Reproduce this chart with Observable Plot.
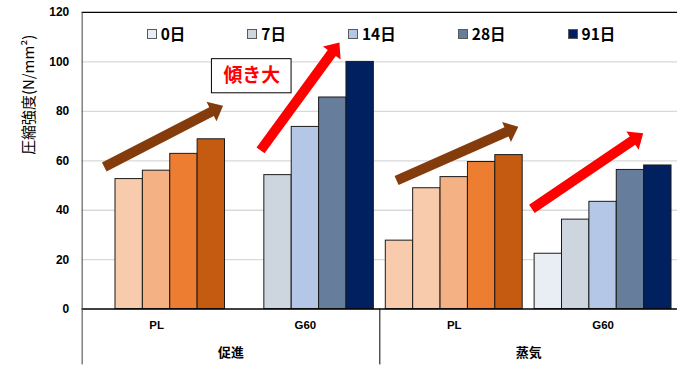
<!DOCTYPE html>
<html><head><meta charset="utf-8">
<script src="https://cdn.jsdelivr.net/npm/d3@7"></script>
<script src="https://cdn.jsdelivr.net/npm/@observablehq/plot@0.6"></script>
<style>
html,body{margin:0;padding:0;background:#fff;overflow:hidden;width:677px;height:366px}
#wrap{position:relative;width:677px;height:366px;overflow:hidden}
#chart svg{display:block}
#legend{position:absolute;left:82px;width:598px;top:24px;height:19px;display:flex;justify-content:center;align-items:center;gap:62px;font:bold 15.5px "Noto Sans CJK JP",sans-serif;color:#000;line-height:19px}
#legend .item{display:flex;align-items:center;white-space:nowrap}
#legend .sw{width:8px;height:8px;border:1px solid #595959;margin-right:4px;box-sizing:content-box}
</style></head><body>
<div id="wrap"><div id="chart"></div><div id="legend"></div></div>
<script>
// ---- data ----
const curing = ["促進", "蒸気"];
const mixes = ["PL", "G60"];
const ages = ["0日", "7日", "14日", "28日", "91日"];
const promotedPL  = [null, 52.6, 56.0, 62.8, 68.7];
const promotedG60 = [null, 54.2, 73.7, 85.6, 100.0];
const steamPL     = [27.7, 48.9, 53.4, 59.5, 62.3];
const steamG60    = [22.4, 36.2, 43.4, 56.3, 58.1];
const yTicks = [0, 20, 40, 60, 80, 100, 120];
const yTitle = "圧縮強度(N/mm²)";
const note = "傾き大";
// trend arrows: [category position, strength] for tail and tip
const arrowTail = [[0.152, 57.3], [1.202, 64.0], [2.116, 51.8], [3.025, 40.3]];
const arrowTip  = [[0.950, 82.1], [1.732, 107.6], [2.934, 73.6], [3.773, 70.9]];
const noteBox = {x1: 0.872, x2: 1.407, y1: 87.3, y2: 101.1};

// ---- styles ----
const plColors  = ["#f8cbad", "#f8cbad", "#f4b183", "#ed7d31", "#c55a11"];
const g60Colors = ["#e9edf4", "#cdd5df", "#b4c7e7", "#667d9b", "#002060"];
const arrowColors = ["#843c0c", "#ff0000", "#843c0c", "#ff0000"];

const W = 680, H = 366, mL = 82, mT = 12, mB = 56;
const bw = 27.5 / 149.5;              // bar width in category units
const pad = (1 - ages.length * bw) / 2;

const series = [[promotedPL, promotedG60], [steamPL, steamG60]];
const rows = [];
curing.forEach((cu, ci) => mixes.forEach((mx, mi) => {
  const c = ci * 2 + mi;
  series[ci][mi].forEach((v, ai) => {
    if (v == null) return;
    rows.push({curing: cu, mix: mx, age: ages[ai], value: v,
      x1: c + pad + ai * bw, x2: c + pad + (ai + 1) * bw,
      color: (mi === 0 ? plColors : g60Colors)[ai]});
  });
}));
const mixLabels = [];
curing.forEach((cu, ci) => mixes.forEach((mx, mi) => mixLabels.push({label: mx, x: ci * 2 + mi + 0.5})));
const curLabels = curing.map((cu, ci) => ({label: cu, x: ci * 2 + 1}));
const yBottom = -mB * 120 / (H - mB - mT);

const font = "'Liberation Sans', Arial, sans-serif";
const jfont = "'Noto Sans CJK JP', sans-serif";

const plot = Plot.plot({
  width: W, height: H, marginLeft: mL, marginRight: 0, marginTop: mT, marginBottom: mB,
  x: {domain: [0, 4], axis: null},
  y: {domain: [0, 120], axis: null},
  style: {background: "transparent", overflow: "visible"},
  marks: [
    Plot.ruleY(yTicks.filter(t => t > 0 && t < 120), {stroke: "#d9d9d9", strokeWidth: 1.3}),
    Plot.ruleY([120], {stroke: "#000", strokeWidth: 1.3}),
    Plot.text(yTicks, {y: d => d, frameAnchor: "left", dx: -13, textAnchor: "end",
      fontWeight: "bold", fontSize: 12, fontFamily: font, fill: "#000"}),
    Plot.text([yTitle], {frameAnchor: "left", dx: -53, dy: -6, rotate: -90, fontSize: 15,
      fontFamily: jfont, fill: "#000"}),
    Plot.rect(rows, {x1: "x1", x2: "x2", y1: 0, y2: "value", fill: "color",
      stroke: "#1a1a1a", strokeWidth: 1}),
    Plot.ruleY([0], {stroke: "#000", strokeWidth: 1.5}),
    Plot.ruleX([0], {y1: 120, y2: yBottom, stroke: "#404040", strokeWidth: 1}),
    Plot.ruleX([2], {y1: 0, y2: yBottom, stroke: "#000", strokeWidth: 1}),
    Plot.text(mixLabels, {x: "x", text: "label", frameAnchor: "bottom", dy: 20,
      fontWeight: "bold", fontSize: 11.5, fontFamily: font, fill: "#000"}),
    Plot.text(curLabels, {x: "x", text: "label", frameAnchor: "bottom", dy: 48,
      fontWeight: "bold", fontSize: 13, fontFamily: jfont, fill: "#000"}),
    Plot.rect([noteBox], {x1: "x1", x2: "x2", y1: "y1", y2: "y2", fill: "#fff",
      stroke: "#000", strokeWidth: 1}),
    Plot.text([note], {x: (noteBox.x1 + noteBox.x2) / 2, y: (noteBox.y1 + noteBox.y2) / 2,
      fill: "#ff0000", fontSize: 19, fontWeight: "bold", fontFamily: jfont})
  ]
});
document.getElementById("chart").appendChild(plot);

// block arrows drawn through the plot's own scales
function scaleFn(name) {
  const s = plot.scale(name);
  if (s && typeof s.apply === "function") return v => s.apply(v);
  const l = d3.scaleLinear(s.domain, s.range);
  return v => l(v);
}
const sx = scaleFn("x"), sy = scaleFn("y");
const svg = d3.select(plot.tagName.toLowerCase() === "svg" ? plot : plot.querySelector("svg"));
const g = svg.append("g");
const sw = 10, hw = 22, hl = 13;
arrowTail.forEach((t, i) => {
  const T = [sx(t[0]), sy(t[1])], P = [sx(arrowTip[i][0]), sy(arrowTip[i][1])];
  const dx = P[0] - T[0], dy = P[1] - T[1], len = Math.hypot(dx, dy);
  const u = [dx / len, dy / len], n = [-u[1], u[0]];
  const B = [P[0] - u[0] * hl, P[1] - u[1] * hl];
  const pt = (p, k) => [p[0] + n[0] * k, p[1] + n[1] * k];
  const pts = [pt(T, sw / 2), pt(B, sw / 2), pt(B, hw / 2), P, pt(B, -hw / 2), pt(B, -sw / 2), pt(T, -sw / 2)];
  g.append("polygon").attr("points", pts.map(p => p.join(",")).join(" ")).attr("fill", arrowColors[i]);
});

// legend (series colours of the G60 bars)
const lg = d3.select("#legend");
ages.forEach((a, i) => {
  const it = lg.append("div").attr("class", "item");
  it.append("div").attr("class", "sw").style("background", g60Colors[i]);
  it.append("span").text(a);
});
</script>
</body></html>
